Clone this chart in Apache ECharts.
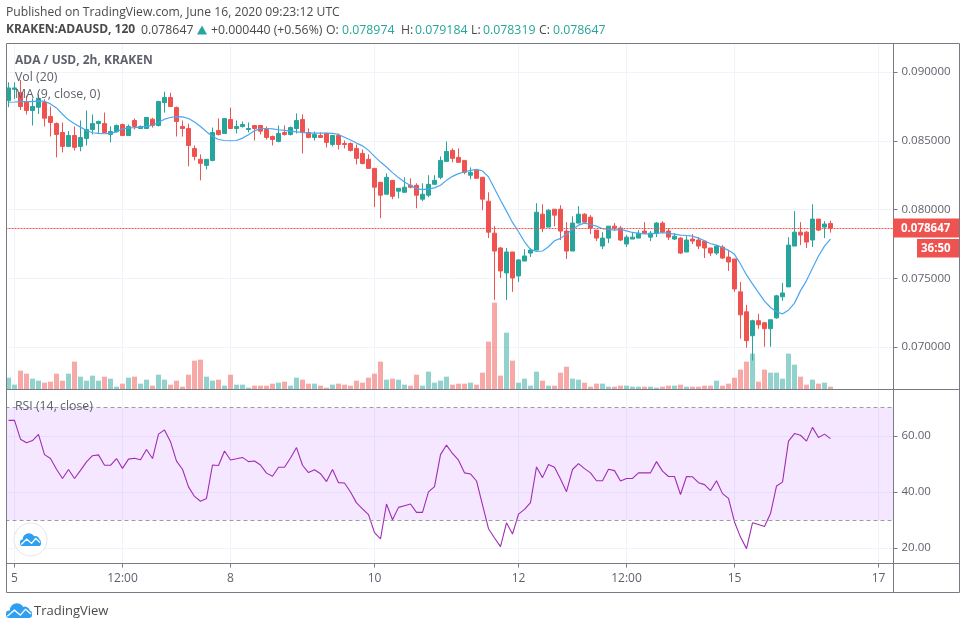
<!DOCTYPE html>
<html>
<head>
<meta charset="utf-8">
<title>ADA / USD</title>
<style>
html,body{margin:0;padding:0;background:#fff;}
#chart{width:966px;height:629px;}
</style>
<script src="https://cdn.jsdelivr.net/npm/echarts@6/dist/echarts.min.js"></script>
</head>
<body>
<div id="chart"></div>
<script>
const opens = [.08792,.08874,.08850,.08785,.08720,.08744,.08778,.08676,.08625,.08560,
  .08459,.08538,.08459,.08517,.08582,.08625,.08625,.08546,.08565,.08618,
  .08538,.08647,.08589,.08589,.08657,.08611,.08778,.08814,.08741,.08604,
  .08589,.08444,.08365,.08321,.08357,.08575,.08553,.08654,.08589,.08604,
  .08582,.08611,.08611,.08582,.08531,.08495,.08560,.08546,.08589,.08654,
  .08560,.08524,.08538,.08553,.08473,.08538,.08480,.08480,.08444,.08408,
  .08365,.08299,.08198,.08111,.08212,.08133,.08125,.08176,.08176,.08075,
  .08104,.08183,.08234,.08350,.08430,.08379,.08357,.08249,.08285,.08234,
  .08060,.07828,.07720,.07539,.07691,.07517,.07625,.07683,.07705,.07966,
  .07872,.08002,.08002,.07843,.07698,.07901,.07966,.07944,.07850,.07734,
  .07792,.07879,.07865,.07749,.07785,.07792,.07843,.07799,.07828,.07901,
  .07843,.07785,.07792,.07691,.07785,.07778,.07770,.07720,.07683,.07727,
  .07654,.07640,.07401,.07256,.07082,.07191,.07176,.07133,.07212,.07365,
  .07437,.07734,.07835,.07835,.07778,.07930,.07872,.078974];
const closes = [.08884,.08884,.08749,.08720,.08749,.08809,.08664,.08633,.08546,.08459,
  .08538,.08452,.08524,.08582,.08625,.08640,.08560,.08567,.08611,.08538,
  .08604,.08604,.08604,.08669,.08611,.08785,.08814,.08749,.08640,.08589,
  .08466,.08386,.08336,.08365,.08560,.08546,.08662,.08589,.08604,.08618,
  .08589,.08589,.08570,.08524,.08509,.08553,.08546,.08596,.08647,.08560,
  .08524,.08546,.08524,.08488,.08538,.08473,.08473,.08430,.08372,.08335,
  .08299,.08162,.08104,.08234,.08096,.08154,.08162,.08162,.08104,.08111,
  .08183,.08212,.08357,.08422,.08372,.08343,.08270,.08270,.08227,.08075,
  .07835,.07698,.07553,.07691,.07502,.07633,.07662,.07705,.07980,.07865,
  .07995,.07959,.07843,.07698,.07901,.07966,.07908,.07865,.07792,.07792,
  .07879,.07865,.07778,.07799,.07799,.07828,.07828,.07828,.07901,.07835,
  .07799,.07806,.07683,.07778,.07770,.07734,.07720,.07683,.07734,.07647,
  .07618,.07422,.07234,.07046,.07191,.07162,.07133,.07198,.07372,.07393,
  .07741,.07835,.07814,.07763,.07930,.07850,.07894,.078647];
const lows = [.08744,.08804,.08724,.08691,.08611,.08695,.08604,.08531,.08379,.08415,
  .08459,.08430,.08423,.08466,.08546,.08553,.08560,.08488,.08560,.08538,
  .08538,.08582,.08589,.08589,.08596,.08604,.08705,.08749,.08531,.08531,
  .08314,.08357,.08212,.08292,.08350,.08538,.08553,.08589,.08553,.08596,
  .08560,.08502,.08546,.08509,.08466,.08488,.08538,.08538,.08553,.08408,
  .08517,.08502,.08524,.08451,.08459,.08437,.08444,.08422,.08328,.08328,
  .08299,.08017,.07937,.08111,.08075,.08082,.08125,.08154,.08009,.08060,
  .08089,.08183,.08220,.08350,.08343,.08343,.08256,.08220,.08227,.07995,
  .07792,.07343,.07502,.07343,.07401,.07473,.07625,.07655,.07705,.07835,
  .07872,.07879,.07778,.07640,.07698,.07901,.07901,.07821,.07770,.07712,
  .07756,.07843,.07770,.07727,.07785,.07792,.07821,.07770,.07799,.07828,
  .07778,.07778,.07676,.07691,.07749,.07712,.07647,.07662,.07669,.07640,
  .07553,.07401,.07060,.06995,.06901,.07133,.07002,.07002,.07205,.07336,
  .07437,.07734,.07741,.07720,.07727,.07843,.07792,.078319];
const highs = [.08925,.08925,.08942,.08828,.08809,.08836,.08802,.08749,.08633,.08633,
  .08570,.08604,.08647,.08720,.08691,.08647,.08705,.08604,.08618,.08625,
  .08618,.08662,.08611,.08669,.08667,.08792,.08857,.08850,.08749,.08647,
  .08625,.08466,.08401,.08365,.08596,.08662,.08662,.08741,.08647,.08640,
  .08633,.08611,.08611,.08604,.08538,.08611,.08611,.08604,.08698,.08691,
  .08589,.08567,.08560,.08560,.08538,.08553,.08502,.08488,.08473,.08437,
  .08401,.08299,.08198,.08263,.08212,.08154,.08234,.08227,.08191,.08191,
  .08249,.08249,.08386,.08495,.08444,.08444,.08357,.08306,.08292,.08234,
  .08125,.07879,.07727,.07720,.07691,.07640,.07712,.07720,.08046,.08038,
  .08002,.08002,.08031,.07908,.07951,.08024,.07973,.07959,.07850,.07835,
  .07879,.07901,.07879,.07814,.07835,.07850,.07908,.07843,.07908,.07915,
  .07865,.07828,.07799,.07806,.07821,.07799,.07770,.07720,.07741,.07741,
  .07705,.07640,.07473,.07307,.07198,.07241,.07183,.07198,.07379,.07466,
  .07799,.07988,.07908,.07843,.08038,.07930,.07915,.079184];
const volumes = [34,13,55,46,31,25,19,22,46,25,46,82,37,25,40,25,37,31,7,16,
  34,37,16,28,10,43,28,13,25,7,43,85,88,37,25,28,10,43,13,13,
  4,10,10,10,16,19,22,10,34,28,16,16,10,4,13,16,13,10,25,19,
  34,46,82,28,31,28,13,10,43,10,52,19,25,37,13,16,16,19,13,49,
  142,259,40,169,85,19,31,10,52,25,10,10,49,67,31,28,19,7,16,16,
  7,7,10,10,7,7,7,7,4,7,10,10,13,7,7,7,10,10,25,10,
  16,34,58,82,106,22,58,49,49,31,106,73,37,13,28,16,19,7];
const maValues = [.08780,.08782,.08785,.08785,.08785,.08790,.08787,.08768,.08739,.08693,
  .08652,.08623,.08599,.08575,.08558,.08553,.08551,.08553,.08565,.08587,
  .08594,.08596,.08599,.08604,.08613,.08633,.08657,.08669,.08676,.08674,
  .08662,.08637,.08604,.08565,.08531,.08509,.08502,.08500,.08502,.08519,
  .08543,.08572,.08589,.08589,.08587,.08580,.08575,.08570,.08565,.08560,
  .08555,.08555,.08555,.08555,.08553,.08546,.08526,.08505,.08483,.08463,
  .08430,.08386,.08345,.08309,.08268,.08232,.08200,.08174,.08152,.08145,
  .08150,.08157,.08176,.08212,.08241,.08261,.08273,.08285,.08292,.08280,
  .08237,.08152,.08067,.07988,.07906,.07838,.07765,.07710,.07695,.07698,
  .07729,.07773,.07790,.07821,.07855,.07886,.07901,.07891,.07879,.07860,
  .07855,.07850,.07855,.07845,.07833,.07826,.07823,.07823,.07826,.07831,
  .07828,.07821,.07814,.07811,.07806,.07792,.07773,.07751,.07741,.07724,
  .07703,.07674,.07604,.07524,.07459,.07396,.07333,.07287,.07256,.07241,
  .07268,.07319,.07410,.07483,.07572,.07662,.07734,.07785];
const rsiValues = [65.5,65.5,58.8,57.5,58.3,60.5,53.3,51.9,48.1,44.8,
  48.0,44.8,47.7,50.7,52.9,53.2,49.5,49.5,51.9,48.4,
  51.7,52.0,51.5,55.1,51.9,60.6,62.1,57.9,51.0,48.1,
  41.8,38.4,36.7,37.7,49.6,49.4,54.6,51.4,51.8,52.3,
  50.8,51.0,49.6,46.7,45.6,48.8,48.8,52.1,55.8,49.5,
  46.9,47.9,46.5,43.7,48.0,43.3,43.2,40.0,36.1,34.0,
  31.9,25.5,23.3,35.7,30.1,34.5,35.1,35.7,32.7,32.7,
  40.0,41.9,53.3,56.7,53.7,51.3,46.8,46.4,43.9,35.4,
  26.9,23.6,20.5,29.0,25.0,32.1,33.8,36.2,48.9,45.1,
  49.8,48.8,44.6,40.1,48.0,50.1,48.3,46.8,44.0,44.0,
  48.1,47.6,43.9,44.8,44.8,46.8,46.8,46.8,50.8,47.4,
  45.5,45.5,39.1,45.5,45.4,43.3,42.6,40.5,44.0,39.4,
  37.7,29.3,23.9,19.8,29.0,28.4,27.7,32.3,42.1,43.5,
  58.1,60.8,60.2,58.1,63.0,59.4,60.6,59.0];
const priceTicks = [0.07,0.075,0.08,0.085,0.09];
const rsiTicks = [20,40,60];
const rsiBand = [30,70];
const timeTickIndexes = [1,19,37,61,85,103,121,145];
const timeTickLabels = ['5','12:00','8','10','12','12:00','15','17'];
const slotCount = 148;
const lastClose = 0.078647;
const priceLineLevel = 0.078618; // sits on the pixel row the dotted line has in the picture

const UP = '#26a69a';
const DOWN = '#ef5350';
const GREY = '#5f626d';
const DARK = '#4a4a4a';
const FRAME = '#787b86';
const GRIDLINE = '#f0f3fa';
const FONT = '"Open Sans"';
const LOGO_BLUE = '#2f9ff2';

const categories = Array.from({length: slotCount}, (_, i) => String(i));
const isTimeTick = (index) => timeTickIndexes.includes(index);

const timeAxis = (gridIndex, showLabel) => ({
  type: 'category',
  gridIndex,
  data: categories,
  axisLine: {show: false},
  axisTick: {show: showLabel, alignWithLabel: true, length: 4, interval: isTimeTick, lineStyle: {color: FRAME}},
  axisLabel: {
    show: showLabel,
    interval: isTimeTick,
    margin: 9,
    color: GREY,
    fontFamily: FONT,
    fontSize: 12,
    hideOverlap: false,
    formatter: (value) => timeTickLabels[timeTickIndexes.indexOf(Number(value))]
  },
  splitLine: {show: true, alignWithLabel: true, interval: isTimeTick, lineStyle: {color: GRIDLINE, width: 1}}
});

const valueAxis = (gridIndex, min, max, ticks, digits) => ({
  type: 'value',
  gridIndex,
  position: 'right',
  min,
  max,
  axisLine: {show: false},
  axisTick: {show: true, length: 4, customValues: ticks, lineStyle: {color: FRAME}},
  axisLabel: {
    margin: 8,
    padding: [2, 0, 0, 0],
    color: GREY,
    fontFamily: FONT,
    fontSize: 11.5,
    customValues: ticks,
    formatter: (value) => value.toFixed(digits)
  },
  splitLine: {show: true, lineStyle: {color: GRIDLINE, width: 1}}
});

const chart = echarts.init(document.getElementById('chart'));

chart.setOption({
  animation: false,
  backgroundColor: '#fff',
  grid: [
    {left: 5.5, width: 888, top: 43.5, height: 345.5},
    {left: 5.5, width: 888, top: 389.5, height: 174}
  ],
  xAxis: [timeAxis(0, false), timeAxis(1, true)],
  yAxis: [
    valueAxis(0, 0.066945, 0.092073, priceTicks, 6),
    {type: 'value', gridIndex: 0, min: 0, max: 1036, show: false, splitLine: {show: false}},
    valueAxis(1, 14.5, 76.5, rsiTicks, 2)
  ],
  series: [
    {
      type: 'bar',
      name: 'Vol',
      xAxisIndex: 0,
      yAxisIndex: 1,
      barWidth: 5,
      z: 2,
      data: volumes.map((volume, i) => ({
        value: volume,
        itemStyle: {color: closes[i] >= opens[i] ? 'rgba(38,166,154,0.5)' : 'rgba(239,83,80,0.5)'}
      }))
    },
    {
      type: 'candlestick',
      name: 'ADA / USD',
      xAxisIndex: 0,
      yAxisIndex: 0,
      barWidth: 5,
      z: 3,
      itemStyle: {color: UP, color0: DOWN, borderColor: UP, borderColor0: DOWN, borderWidth: 1},
      data: opens.map((open, i) => [open, closes[i], lows[i], highs[i]]),
      markLine: {
        silent: true,
        symbol: 'none',
        precision: 6,
        label: {show: false},
        lineStyle: {color: DOWN, width: 1, type: [2, 1], opacity: 1},
        data: [{yAxis: priceLineLevel}]
      }
    },
    {
      type: 'line',
      name: 'MA',
      xAxisIndex: 0,
      yAxisIndex: 0,
      showSymbol: false,
      z: 4,
      lineStyle: {color: '#4ba6f0', width: 1.2},
      data: maValues
    },
    {
      type: 'line',
      name: 'RSI',
      xAxisIndex: 1,
      yAxisIndex: 2,
      showSymbol: false,
      z: 4,
      lineStyle: {color: '#a02db5', width: 1.1},
      data: rsiValues,
      markArea: {
        silent: true,
        itemStyle: {color: 'rgba(153,21,255,0.1)'},
        data: [[{yAxis: rsiBand[0]}, {yAxis: rsiBand[1]}]]
      },
      markLine: {
        silent: true,
        symbol: 'none',
        label: {show: false},
        lineStyle: {color: '#9a9ca6', width: 1, type: [4, 3]},
        data: rsiBand.map((value) => ({yAxis: value}))
      }
    }
  ]
});

const text = (x, y, value, fill, font) => ({
  type: 'text',
  z: 20,
  silent: true,
  style: {x, y, text: value, fill, font: font || '12.3px ' + FONT, verticalAlign: 'middle'}
});
const frameLine = (x1, y1, x2, y2) => ({
  type: 'line',
  z: 15,
  silent: true,
  shape: {x1, y1, x2, y2},
  style: {stroke: FRAME, lineWidth: 1}
});
const logo = (x, y, w, h, z) => [
  {type: 'circle', z, silent: true, shape: {cx: x + w * 0.42, cy: y + h * 0.48, r: h * 0.47}, style: {fill: LOGO_BLUE}},
  {type: 'circle', z, silent: true, shape: {cx: x + w * 0.72, cy: y + h * 0.6, r: h * 0.36}, style: {fill: LOGO_BLUE}},
  {type: 'rect', z, silent: true, shape: {x, y: y + h * 0.5, width: w, height: h * 0.5, r: h * 0.22}, style: {fill: LOGO_BLUE}},
  {
    type: 'polyline',
    z: z + 1,
    silent: true,
    shape: {points: [[x + w * 0.05, y + h * 0.88], [x + w * 0.32, y + h * 0.48], [x + w * 0.55, y + h * 0.8], [x + w * 0.75, y + h * 0.42], [x + w * 0.96, y + h * 0.74]]},
    style: {fill: 'none', stroke: '#fff', lineWidth: 1.3}
  }
];

const priceY = chart.convertToPixel({yAxisIndex: 0}, lastClose);
const BOLD = 'bold 12px ' + FONT;

chart.setOption({
  graphic: [
    {type: 'rect', z: 14, silent: true, shape: {x: 0, y: 40, width: 6.5, height: 555}, style: {fill: '#fff'}},
    frameLine(6.5, 43.5, 959.5, 43.5),
    frameLine(6.5, 43.5, 6.5, 592.5),
    frameLine(959.5, 43.5, 959.5, 592.5),
    frameLine(6.5, 592.5, 959.5, 592.5),
    frameLine(893.5, 43.5, 893.5, 592.5),
    frameLine(6.5, 389.5, 959.5, 389.5),
    frameLine(6.5, 563.5, 959.5, 563.5),

    text(6, 13, 'Published on TradingView.com, June 16, 2020 09:23:12 UTC', DARK, '12.15px ' + FONT),
    text(6, 30, 'KRAKEN:ADAUSD, 120', DARK, BOLD),
    text(141, 30, '0.078647', DARK),
    {type: 'polygon', z: 20, silent: true, shape: {points: [[197, 34.5], [207, 34.5], [202, 25.5]]}, style: {fill: UP}},
    text(211, 30, '+0.000440 (+0.56%)', DARK),
    text(326, 30, 'O:', DARK),
    text(342, 30, '0.078974', UP),
    text(401, 30, 'H:', DARK),
    text(415, 30, '0.079184', UP),
    text(471, 30, 'L:', DARK),
    text(483, 30, '0.078319', UP),
    text(539, 30, 'C:', DARK),
    text(553, 30, '0.078647', UP),

    text(15, 60.5, 'ADA / USD, 2h, KRAKEN', GREY, BOLD),
    text(15, 77.5, 'Vol (20)', GREY),
    text(15, 94.5, 'MA (9, close, 0)', GREY),
    text(15, 406.5, 'RSI (14, close)', GREY),

    {type: 'rect', z: 16, silent: true, shape: {x: 893, y: priceY - 9.5, width: 66, height: 19}, style: {fill: DOWN}},
    text(901, priceY + 0.5, lastClose.toFixed(6), '#fff', 'bold 11.5px ' + FONT),
    {type: 'rect', z: 16, silent: true, shape: {x: 917, y: priceY + 11, width: 42, height: 18.5}, style: {fill: DOWN}},
    text(921, priceY + 20.5, '36:50', '#fff', 'bold 11.5px ' + FONT),

    {type: 'circle', z: 20, silent: true, shape: {cx: 30.5, cy: 539.5, r: 16.5}, style: {fill: '#fff', stroke: '#e4e6ec', lineWidth: 1}},
    ...logo(20, 533, 21, 13, 21),
    ...logo(6, 603, 26, 15, 21),
    text(34, 611, 'TradingView', DARK, '13px ' + FONT)
  ]
});
</script>
</body>
</html>
